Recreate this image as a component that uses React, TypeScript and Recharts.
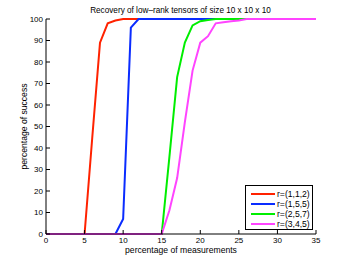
import { Line, LineChart, XAxis, YAxis } from "recharts";

const measurements = [
  0, 1, 2, 3, 4, 5, 6, 7, 8, 9, 10, 11, 12, 13, 14, 15, 16, 17, 18, 19, 20, 21, 22, 23, 24, 25, 26, 27, 28, 29,
  30, 31, 32, 33, 34, 35,
];
const r112 = [
  0, 0, 0, 0, 0, 0, 45, 89, 98, 99.3, 100, 100, 100, 100, 100, 100, 100, 100, 100, 100, 100, 100, 100, 100, 100,
  100, 100, 100, 100, 100, 100, 100, 100, 100, 100, 100,
];
const r155 = [
  0, 0, 0, 0, 0, 0, 0, 0, 0, 0, 7, 96, 100, 100, 100, 100, 100, 100, 100, 100, 100, 100, 100, 100, 100, 100, 100,
  100, 100, 100, 100, 100, 100, 100, 100, 100,
];
const r257 = [
  0, 0, 0, 0, 0, 0, 0, 0, 0, 0, 0, 0, 0, 0, 0, 0, 36, 73, 89, 97, 99, 99.5, 100, 100, 100, 100, 100, 100, 100,
  100, 100, 100, 100, 100, 100, 100,
];
const r345 = [
  0, 0, 0, 0, 0, 0, 0, 0, 0, 0, 0, 0, 0, 0, 0, 0, 11, 26, 52, 76, 89, 92, 98, 98.5, 99, 99.3, 100, 100, 100, 100,
  100, 100, 100, 100, 100, 100,
];
const xTicks = [0, 5, 10, 15, 20, 25, 30, 35];
const yTicks = [0, 10, 20, 30, 40, 50, 60, 70, 80, 90, 100];

const series = [
  { key: "r112", name: "r=(1,1,2)", color: "#ff2200" },
  { key: "r155", name: "r=(1,5,5)", color: "#0a2cff" },
  { key: "r257", name: "r=(2,5,7)", color: "#00ee00" },
  { key: "r345", name: "r=(3,4,5)", color: "#ff44ff" },
];

const data = measurements.map((m, i) => ({
  m,
  r112: r112[i],
  r155: r155[i],
  r257: r257[i],
  r345: r345[i],
}));

const font = "'Liberation Sans', Arial, sans-serif";
const tickStyle = { fill: "#000", fontSize: 8, fontFamily: font };
const labelStyle = { fill: "#000", fontSize: 8.6, fontFamily: font };

function LegendBox() {
  return (
    <div
      style={{
        position: "absolute",
        left: 245,
        top: 185,
        width: 68,
        height: 45,
        border: "1px solid #000",
        background: "#fff",
        padding: "3px 0 0 5px",
        boxSizing: "border-box",
        fontFamily: font,
        fontSize: 8.6,
        lineHeight: "10px",
        whiteSpace: "nowrap",
      }}
    >
      {series.map((s) => (
        <div key={s.key} style={{ display: "flex", alignItems: "center" }}>
          <span style={{ display: "inline-block", width: 24, height: 2, background: s.color, marginRight: 2 }} />
          <span>{s.name}</span>
        </div>
      ))}
    </div>
  );
}

export default function App() {
  return (
    <div style={{ position: "absolute", left: 0, top: 0, width: 349, height: 263, background: "#fff" }}>
      <div
        style={{
          position: "absolute",
          left: 45,
          width: 271,
          top: 6,
          textAlign: "center",
          fontFamily: font,
          fontSize: 8.2,
        }}
      >
        Recovery of low–rank tensors of size 10 x 10 x 10
      </div>
      <LineChart width={349} height={263} data={data} margin={{ top: 19, right: 33, bottom: 0, left: 0 }}>
        <XAxis
          xAxisId="b"
          dataKey="m"
          type="number"
          domain={[0, 35]}
          ticks={xTicks}
          height={29}
          tickSize={-4}
          tickMargin={7}
          tick={tickStyle}
          stroke="#000"
          label={{ value: "percentage of measurements", position: "insideBottom", offset: 10, style: labelStyle }}
        />
        <XAxis
          xAxisId="t"
          orientation="top"
          dataKey="m"
          type="number"
          domain={[0, 35]}
          ticks={xTicks}
          height={0}
          tickSize={-4}
          tickFormatter={() => ""}
          stroke="#000"
        />
        <YAxis
          yAxisId="l"
          type="number"
          domain={[0, 100]}
          ticks={yTicks}
          width={46}
          tickSize={-4}
          tickMargin={7}
          tick={tickStyle}
          stroke="#000"
          label={{
            value: "percentage of success",
            angle: -90,
            position: "insideLeft",
            offset: 24,
            style: { ...labelStyle, textAnchor: "middle" },
          }}
        />
        <YAxis
          yAxisId="r"
          orientation="right"
          type="number"
          domain={[0, 100]}
          ticks={yTicks}
          width={0}
          tickSize={-4}
          tickFormatter={() => ""}
          stroke="#000"
        />
        {series.map((s) => (
          <Line
            key={s.key}
            xAxisId="b"
            yAxisId="l"
            type="linear"
            dataKey={s.key}
            name={s.name}
            stroke={s.color}
            strokeWidth={2}
            dot={false}
            isAnimationActive={false}
          />
        ))}
      </LineChart>
      <LegendBox />
    </div>
  );
}
